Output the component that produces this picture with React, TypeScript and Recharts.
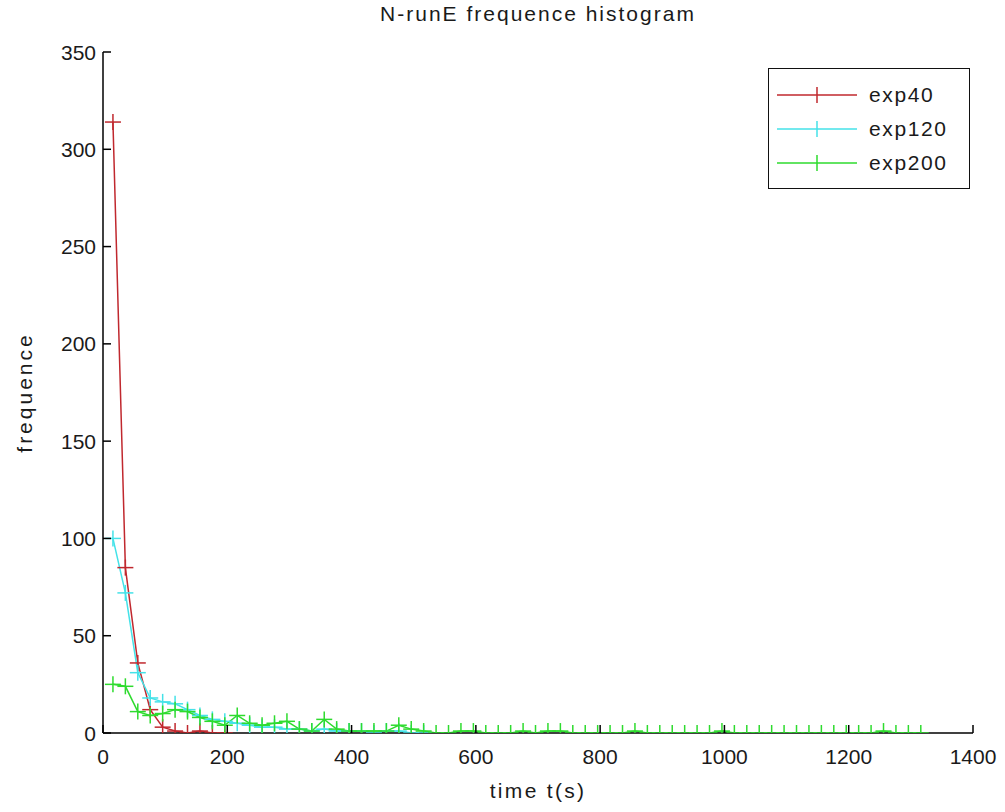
import React from 'react';
import { LineChart, Line, XAxis, YAxis, Legend } from 'recharts';

// bin centres (s) and counts for each run
const tExp40 = [16, 36, 56, 76, 96, 116, 136, 156, 176, 196];
const nExp40 = [314, 85, 36, 12, 3, 1, 0, 1, 0, 0];

const tExp120 = [
  16, 36, 56, 76, 96, 116, 136, 156, 176, 196, 216, 236, 256, 276, 296, 316, 336, 356, 376, 396, 416, 436, 456,
  476, 496, 516,
];
const nExp120 = [100, 72, 31, 18, 16, 15, 12, 9, 7, 6, 5, 4, 3, 3, 2, 2, 1, 2, 1, 1, 1, 0, 1, 1, 0, 0];

const tExp200 = [
  16, 36, 56, 76, 96, 116, 136, 156, 176, 196, 216, 236, 256, 276, 296, 316, 336, 356, 376, 396, 416, 436, 456,
  476, 496, 516, 536, 556, 576, 596, 616, 636, 656, 676, 696, 716, 736, 756, 776, 796, 816, 836, 856, 876, 896,
  916, 936, 956, 976, 996, 1016, 1036, 1056, 1076, 1096, 1116, 1136, 1156, 1176, 1196, 1216, 1236, 1256, 1276,
  1296, 1316,
];
const nExp200 = [
  25, 24, 11, 9, 10, 12, 11, 8, 6, 4, 9, 5, 4, 5, 6, 2, 1, 7, 2, 1, 1, 1, 1, 4, 2, 1, 0, 0, 1, 1, 0, 0, 0, 1, 0,
  1, 1, 0, 0, 0, 0, 0, 1, 0, 0, 0, 0, 0, 0, 1, 0, 0, 0, 0, 0, 0, 0, 0, 0, 0, 0, 0, 1, 0, 0, 0,
];

const xTicks = [0, 200, 400, 600, 800, 1000, 1200, 1400];
const yTicks = [0, 50, 100, 150, 200, 250, 300, 350];

const RED = '#c0282e';
const CYAN = '#44e2e8';
const GREEN = '#2edb2e';

const FONT = "'Liberation Sans', Arial, sans-serif";
const INK = '#1a1a1a';

const toRows = (ts: number[], ns: number[]) => ts.map((t, i) => ({ t, n: ns[i] }));

const series = [
  { name: 'exp40', color: RED, data: toRows(tExp40, nExp40) },
  { name: 'exp120', color: CYAN, data: toRows(tExp120, nExp120) },
  { name: 'exp200', color: GREEN, data: toRows(tExp200, nExp200) },
];
const seriesOrder = series.map((s) => s.name);

const TICK_LEN = 8;

function PlusMark(props: any) {
  const { cx, cy, stroke, index } = props;
  if (cx == null || cy == null) return <g key={`p-${index}`} />;
  const h = 8;
  return (
    <g key={`p-${index}`}>
      <line x1={cx - h} x2={cx + h} y1={cy} y2={cy} stroke={stroke} strokeWidth={1.5} />
      <line x1={cx} x2={cx} y1={cy - h} y2={cy + h} stroke={stroke} strokeWidth={1.5} />
    </g>
  );
}

// y ticks point into the plot, label sits left of the axis
function YTick(props: any) {
  const { x, y, payload } = props;
  const gap = 7;
  return (
    <g>
      <line x1={x + gap} x2={x + gap + TICK_LEN} y1={y} y2={y} stroke="#000" strokeWidth={1.5} />
      <text x={x} y={y} dy="0.36em" textAnchor="end" fontFamily={FONT} fontSize={21} fill={INK}>
        {payload.value}
      </text>
    </g>
  );
}

// x ticks point up into the plot, label below the axis
function XTick(props: any) {
  const { x, y, payload } = props;
  const gap = 16;
  return (
    <g>
      <line x1={x} x2={x} y1={y - gap} y2={y - gap - TICK_LEN} stroke="#000" strokeWidth={1.5} />
      <text x={x} y={y} dy="0.72em" textAnchor="middle" fontFamily={FONT} fontSize={21} fill={INK}>
        {payload.value}
      </text>
    </g>
  );
}

function LegendBox({ payload }: any) {
  // keep plotting order rather than the legend's alphabetical sort
  const items = [...(payload || [])].sort(
    (a: any, b: any) => seriesOrder.indexOf(a.value) - seriesOrder.indexOf(b.value)
  );
  return (
    <div
      style={{
        border: '1.5px solid #111',
        background: '#fff',
        width: '100%',
        height: '100%',
        boxSizing: 'border-box',
        paddingTop: 9,
      }}
    >
      {items.map((item: any) => (
        <div key={item.value} style={{ display: 'flex', alignItems: 'center', height: 34 }}>
          <svg width={96} height={34} style={{ flex: 'none' }}>
            <line x1={8} x2={88} y1={17} y2={17} stroke={item.color} strokeWidth={1.5} />
            <line x1={48} x2={48} y1={9} y2={25} stroke={item.color} strokeWidth={1.5} />
          </svg>
          <span style={{ fontFamily: FONT, fontSize: 21, color: INK, letterSpacing: 1.6, marginLeft: 4 }}>
            {item.value}
          </span>
        </div>
      ))}
    </div>
  );
}

export default function App() {
  return (
    <div style={{ position: 'absolute', left: 0, top: 0, width: 1005, height: 812, background: '#fff' }}>
      <div
        style={{
          position: 'absolute',
          left: 0,
          width: 1076,
          top: 2,
          textAlign: 'center',
          fontFamily: FONT,
          fontSize: 21,
          letterSpacing: 2,
          color: INK,
        }}
      >
        N-runE frequence histogram
      </div>
      <LineChart width={1005} height={812} margin={{ top: 52, right: 32, bottom: 39, left: 5 }}>
        <XAxis
          type="number"
          dataKey="t"
          domain={[0, 1400]}
          ticks={xTicks}
          interval={0}
          allowDataOverflow
          height={40}
          tickSize={0}
          tickMargin={16}
          tick={<XTick />}
          axisLine={{ stroke: '#000', strokeWidth: 1.5 }}
          label={{
            value: 'time t(s)',
            position: 'bottom',
            offset: 10,
            style: { fontFamily: FONT, fontSize: 21, letterSpacing: 2.3, fill: INK },
          }}
        />
        <YAxis
          type="number"
          dataKey="n"
          domain={[0, 350]}
          ticks={yTicks}
          interval={0}
          allowDataOverflow
          width={98}
          tickSize={0}
          tickMargin={7}
          tick={<YTick />}
          axisLine={{ stroke: '#000', strokeWidth: 1.5 }}
          label={{
            value: 'frequence',
            angle: -90,
            position: 'insideLeft',
            offset: 20,
            style: { textAnchor: 'middle', fontFamily: FONT, fontSize: 21, letterSpacing: 3, fill: INK },
          }}
        />
        <Legend
          layout="horizontal"
          verticalAlign="middle"
          align="center"
          content={<LegendBox />}
          wrapperStyle={{ left: 768, top: 68, width: 202, height: 121 }}
        />
        {series.map((s) => (
          <Line
            key={s.name}
            data={s.data}
            dataKey="n"
            name={s.name}
            stroke={s.color}
            strokeWidth={1.5}
            type="linear"
            dot={(p: any) => <PlusMark {...p} stroke={s.color} />}
            activeDot={false}
            isAnimationActive={false}
          />
        ))}
      </LineChart>
    </div>
  );
}
